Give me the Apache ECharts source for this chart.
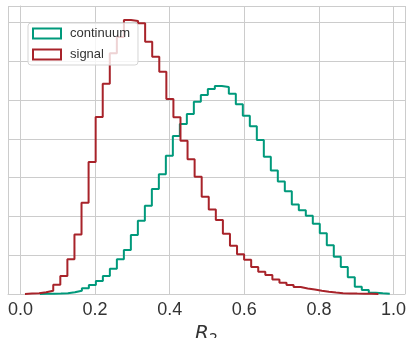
<!DOCTYPE html>
<html>
<head>
<meta charset="utf-8">
<script src="https://cdn.jsdelivr.net/npm/echarts@6/dist/echarts.min.js"></script>
<style>
  html, body { margin: 0; padding: 0; background: #fff; }
  #chart { width: 406px; height: 338px; }
</style>
</head>
<body>
<div id="chart"></div>
<script>
// histogram bin ranges (50 bins each)
const continuumRange = [0.052, 0.99];
const signalRange = [0.012, 0.9595];

// normalised densities per bin
const continuumDensity = [
  0.003, 0.004, 0.006, 0.010, 0.022, 0.043, 0.073, 0.116, 0.168, 0.232,
  0.325, 0.447, 0.567, 0.760, 0.945, 1.138, 1.353, 1.544, 1.782, 2.036,
  2.191, 2.320, 2.478, 2.564, 2.642, 2.680, 2.668, 2.581, 2.445, 2.298,
  2.161, 1.985, 1.769, 1.592, 1.450, 1.325, 1.153, 1.079, 1.009, 0.906,
  0.782, 0.628, 0.481, 0.348, 0.215, 0.094, 0.052, 0.017, 0.009, 0.004
];
const signalDensity = [
  0.005, 0.009, 0.022, 0.043, 0.119, 0.232, 0.447, 0.767, 1.177, 1.701,
  2.281, 2.710, 3.102, 3.312, 3.531, 3.518, 3.488, 3.251, 3.058, 2.865,
  2.513, 2.277, 1.976, 1.736, 1.512, 1.254, 1.089, 0.954, 0.777, 0.622,
  0.513, 0.442, 0.348, 0.287, 0.245, 0.186, 0.146, 0.116, 0.090, 0.071,
  0.058, 0.043, 0.030, 0.018, 0.010, 0.008, 0.005, 0.004, 0.003, 0.001
];

const names = ['continuum', 'signal'];
const colors = ['#00997b', '#a8232a'];

// outline of a step histogram: left edges + closing edge back to zero
function stepData(range, dens) {
  const w = (range[1] - range[0]) / dens.length;
  const pts = [[range[0], 0]];
  dens.forEach((d, i) => pts.push([range[0] + i * w, d]));
  pts.push([range[1], dens[dens.length - 1]]);
  pts.push([range[1], 0]);
  return pts;
}

const chart = echarts.init(document.getElementById('chart'));
chart.setOption({
  animation: false,
  grid: { left: 8, right: 1, top: 6, bottom: 44, outerBoundsMode: 'none', containLabel: false },
  legend: {
    orient: 'vertical',
    left: 28,
    top: 23,
    itemWidth: 28,
    itemHeight: 10,
    itemGap: 8,
    padding: [4, 8, 4, 4],
    backgroundColor: 'rgba(255,255,255,0.8)',
    borderColor: '#d5d5d5',
    borderWidth: 1,
    borderRadius: 3,
    textStyle: { fontFamily: 'Liberation Sans', fontSize: 13, color: '#333', padding: [0, 0, 0, 4] },
    data: names.map((n, i) => ({
      name: n,
      icon: 'rect',
      itemStyle: { color: 'rgba(255,255,255,0)', borderColor: colors[i], borderWidth: 2 }
    }))
  },
  xAxis: {
    type: 'value',
    min: -0.0335,
    max: 1.0308,
    name: '{r|R}{s|2}',
    nameLocation: 'middle',
    nameGap: 22,
    nameTextStyle: {
      rich: {
        r: { fontFamily: 'DejaVu Sans', fontStyle: 'italic', fontSize: 20, color: '#333' },
        s: { fontFamily: 'DejaVu Sans', fontSize: 14, color: '#333', padding: [10, 0, 0, 0] }
      }
    },
    axisLine: { show: true, lineStyle: { color: '#cccccc', width: 1 } },
    axisTick: { show: false },
    axisLabel: {
      fontFamily: 'Liberation Sans', fontSize: 18, color: '#333', margin: 7,
      showMinLabel: false, showMaxLabel: false,
      formatter: v => v.toFixed(1)
    },
    splitLine: { show: true, lineStyle: { color: '#cccccc', width: 1 } }
  },
  yAxis: {
    type: 'value',
    min: 0,
    max: 3.711,
    interval: 0.5,
    axisLine: { show: true, lineStyle: { color: '#cccccc', width: 1 } },
    axisTick: { show: false },
    axisLabel: { show: false },
    splitLine: { show: true, lineStyle: { color: '#cccccc', width: 1 } }
  },
  series: [
    {
      name: names[0], type: 'line', step: 'end', showSymbol: false,
      color: colors[0], lineStyle: { width: 2 },
      data: stepData(continuumRange, continuumDensity)
    },
    {
      name: names[1], type: 'line', step: 'end', showSymbol: false,
      color: colors[1], lineStyle: { width: 2 },
      data: stepData(signalRange, signalDensity)
    }
  ]
});
</script>
</body>
</html>
